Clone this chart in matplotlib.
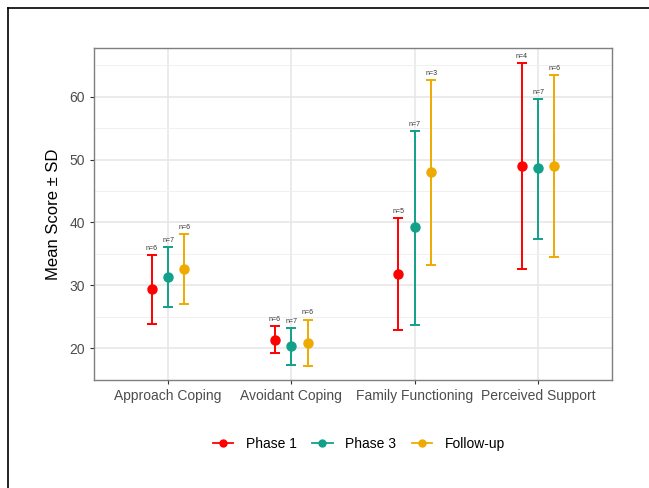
import numpy as np
import matplotlib
matplotlib.use("Agg")
import matplotlib.pyplot as plt
from matplotlib.lines import Line2D

plt.rcParams['font.family'] = ['Liberation Sans', 'DejaVu Sans']

categories = ["Approach Coping", "Avoidant Coping", "Family Functioning", "Perceived Support"]
phases = ["Phase 1", "Phase 3", "Follow-up"]
colors = ["#FF0000", "#12A08A", "#EEAA00"]

# mean, lower (mean - SD), upper (mean + SD), n for each phase
means = [
    [29.35, 21.3, 31.85, 49.0],
    [31.3, 20.3, 39.2, 48.6],
    [32.65, 20.8, 48.0, 49.0],
]
lowers = [
    [23.9, 19.15, 22.9, 32.6],
    [26.5, 17.35, 23.7, 37.4],
    [27.1, 17.1, 33.3, 34.55],
]
uppers = [
    [34.8, 23.45, 40.7, 65.4],
    [36.15, 23.2, 54.6, 59.7],
    [38.2, 24.55, 62.7, 63.5],
]
ns = [
    [6, 6, 5, 4],
    [7, 7, 7, 7],
    [6, 6, 3, 6],
]


def main():
    fig = plt.figure(figsize=(6.49, 4.88), dpi=100)
    ax = fig.add_axes([0.145, 0.221, 0.798, 0.681])

    x = np.arange(1, len(categories) + 1)
    offsets = [-0.133, 0.0, 0.133]

    for i in range(len(phases)):
        m = np.array(means[i])
        lo = np.array(lowers[i])
        hi = np.array(uppers[i])
        xs = x + offsets[i]
        ax.errorbar(xs, m, yerr=[m - lo, hi - m], fmt='o', color=colors[i],
                    ecolor=colors[i], elinewidth=1.4, capsize=3.6, capthick=1.4,
                    markersize=6.5, zorder=3)
        for xi, top, n in zip(xs, hi, ns[i]):
            ax.text(xi, top + 0.5, "n=%d" % n, ha='center', va='bottom',
                    fontsize=5, color='#333333')

    ax.set_xlim(0.4, 4.6)
    ax.set_ylim(14.9, 67.8)
    ax.set_xticks(x)
    ax.set_xticklabels(categories, fontsize=10, color='#4D4D4D')
    ax.set_yticks([20, 30, 40, 50, 60])
    ax.set_yticks([25, 35, 45, 55, 65], minor=True)
    ax.tick_params(axis='y', labelsize=10, labelcolor='#4D4D4D', color='#333333', length=3)
    ax.tick_params(axis='x', color='#333333', length=3)
    ax.tick_params(which='minor', length=0)
    ax.grid(True, which='major', color='#E6E6E6', linewidth=1.1)
    ax.grid(True, which='minor', axis='y', color='#F0F0F0', linewidth=0.7)
    ax.set_axisbelow(True)
    for s in ax.spines.values():
        s.set_color('#7F7F7F')
        s.set_linewidth(1.0)
    ax.set_ylabel("Mean Score ± SD", fontsize=12, color='black', labelpad=6)

    handles = [Line2D([0], [0], color=c, marker='o', markersize=5, linewidth=1.3)
               for c in colors]
    fig.legend(handles, phases, loc='center', bbox_to_anchor=(0.553, 0.090),
               ncol=3, frameon=False, fontsize=10, handlelength=1.5,
               columnspacing=1.1, handletextpad=0.9)

    # frame lines of the original figure border
    fig.add_artist(Line2D([0.012, 0.012], [0, 0.984], color='black', linewidth=1.2,
                          transform=fig.transFigure))
    fig.add_artist(Line2D([0.012, 1], [0.984, 0.984], color='black', linewidth=1.2,
                          transform=fig.transFigure))

    fig.savefig("out.png", dpi=100)


if __name__ == "__main__":
    main()
